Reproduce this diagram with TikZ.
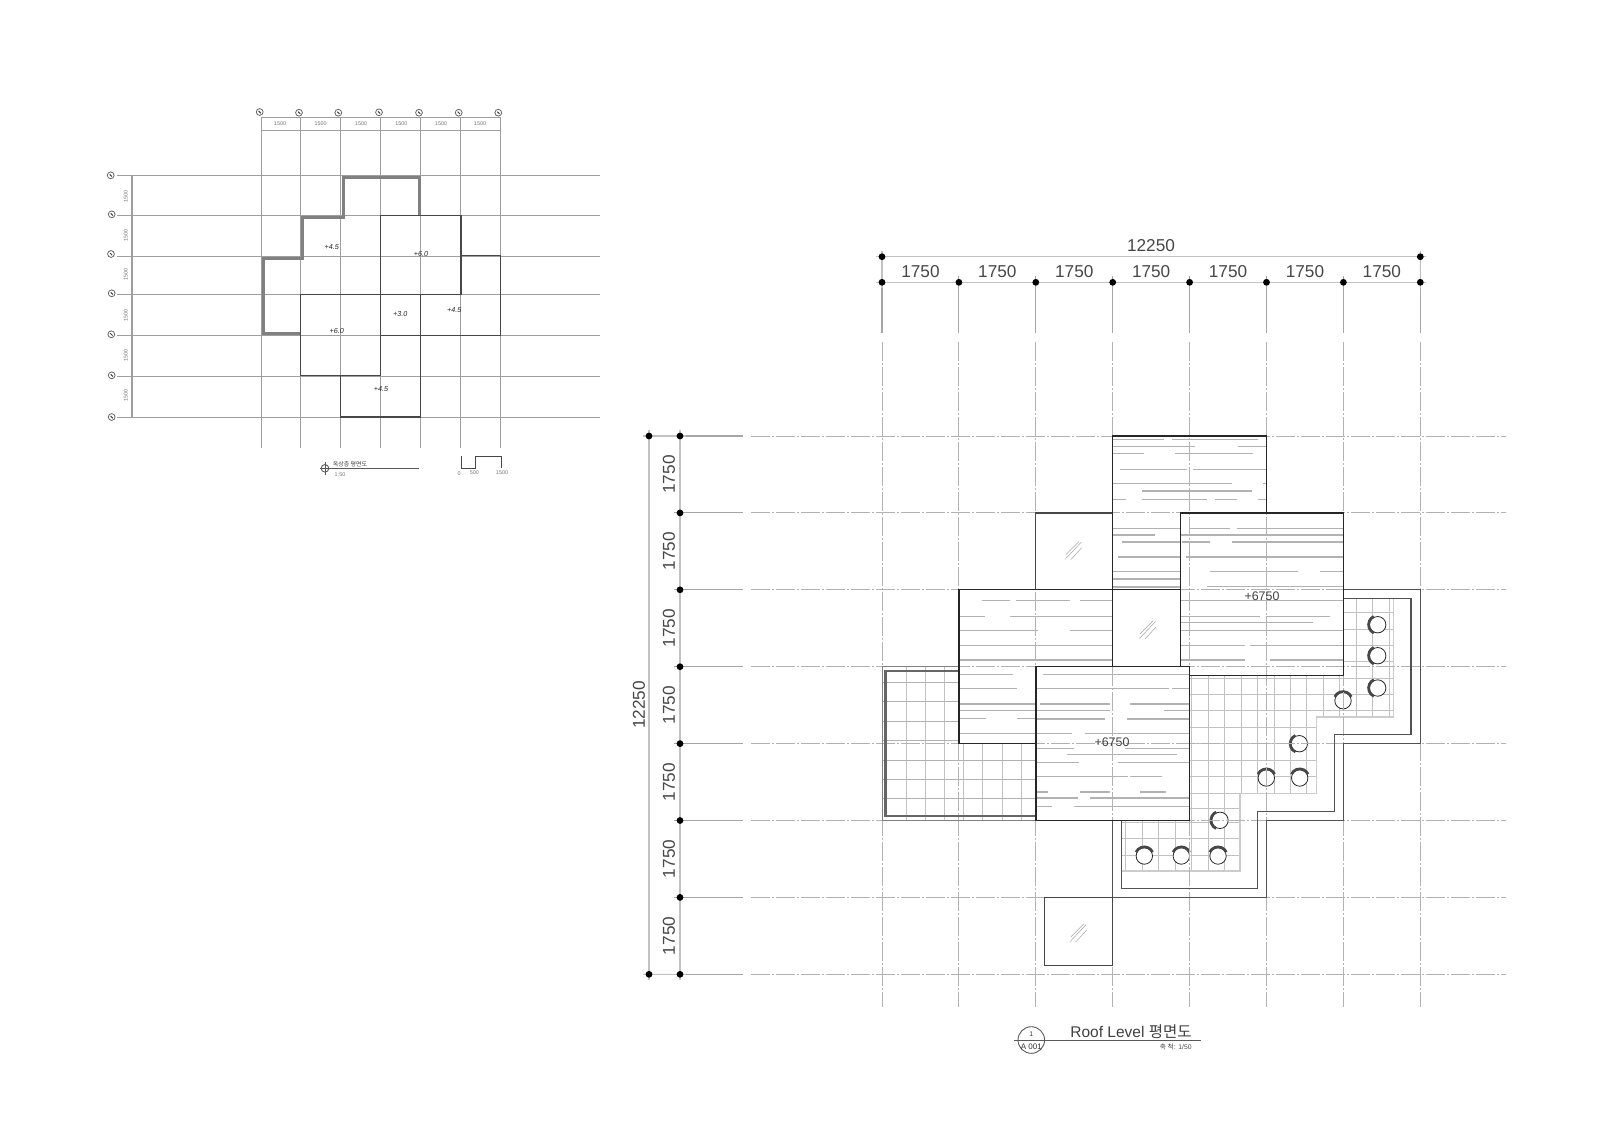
\documentclass[tikz,border=0pt]{standalone}
\usepackage{fontspec}
\setmainfont{Liberation Sans}
\newfontfamily\krfont{Noto Sans CJK KR}
\newcommand{\hl}[2]{\foreach \a/\b in {#2} \draw[hatchline] (\a,#1)--(\b,#1);}
\newcommand{\glassmark}[2]{\begin{scope}[shift={(#1,#2)}]
 \draw[glassline] (-8,4)--(5,-9); \draw[glassline] (-8.5,8.5)--(7.5,-8.5); \draw[glassline] (-3,9)--(8,-3);
\end{scope}}
\newcommand{\lampT}[2]{\draw[lampline] (#1,#2) circle (8.2);
 \draw[lamparc] (#1,#2) ++(205:9.2) arc[start angle=205,end angle=335,radius=9.2];}
\newcommand{\lampL}[2]{\draw[lampline] (#1,#2) circle (8.2);
 \draw[lamparc] (#1,#2) ++(115:9.2) arc[start angle=115,end angle=245,radius=9.2];}
\newcommand{\gridmark}[2]{\draw[gridring] (#1,#2) circle (3.4); \draw[gridtick] (#1-1,#2-1)--(#1+1.2,#2+1.2);}
\tikzset{
 x=0.5pt,y=-0.5pt,
 hatchline/.style={draw=black!30,line width=0.6pt},
 glassline/.style={draw=black!35,line width=0.25pt},
 lampline/.style={draw=black!85,fill=white,line width=0.4pt},
 lamparc/.style={draw=black!72,line width=1.3pt},
 gridring/.style={draw=black!60,fill=white,line width=0.4pt},
 gridtick/.style={draw=black!75,line width=0.5pt},
 axisdash/.style={draw=black!30,line width=0.5pt,dash pattern=on 9.5pt off 1pt on 1pt off 1pt},
 axissolid/.style={draw=black!35,line width=0.55pt},
 dimline/.style={draw=black!24,line width=0.55pt,shorten <=-3pt,shorten >=-3pt},
 paveline/.style={draw=black!24,line width=0.5pt},
 roofedge/.style={draw=black!85,line width=0.72pt},
 thinedge/.style={draw=black!72,line width=0.6pt},
 wallline/.style={draw=black!68,line width=0.6pt},
 dimdot/.style={circle,fill=black,inner sep=0pt,minimum size=3.4pt},
 dimtext/.style={font=\fontsize{8.6}{10}\selectfont,text=black!72,inner sep=0pt},
 leveltext/.style={font=\fontsize{6.2}{8}\selectfont,text=black!75,inner sep=0pt},
 tinytext/.style={font=\fontsize{2.7}{3}\selectfont,text=black!55,inner sep=0pt},
 handtext/.style={font=\fontsize{3.6}{4}\selectfont\itshape,text=black!85,inner sep=0pt},
 smallaxis/.style={draw=black!38,line width=0.45pt},
 smalledge/.style={draw=black!72,line width=0.55pt},
 smallwall/.style={draw=black!50,line width=1.5pt,line join=miter},
}
\begin{document}
\begin{tikzpicture}
\useasboundingbox (0,0) rectangle (1600,1131);
% ================= small plan
\foreach \x in {261.3,300.7,340.7,380.3,420.7,460.3,500.3} \draw[smallaxis] (\x,117.3)--(\x,448.3);
\foreach \y in {175.3,215.7,256.3,294.7,335.3,376,417} \draw[smallaxis] (117.3,\y)--(600,\y);
\draw[smallaxis] (261.3,130.7)--(500.3,130.7);
\draw[smallaxis] (261.3,117.3)--(500.3,117.3);
\draw[smallaxis,line width=0.6pt] (132,175.3)--(132,417);
\foreach \x/\y in {259.7/112,299/112.7,338.3/112.7,379/112.3,419/112.7,458.7/112.7,498.3/112.7,
  110.7/175.3,111.7/214.3,111/254,111.7/293.3,111.3/334.3,111.7/375.3,111.7/417} {\gridmark{\x}{\y}}
\foreach \x in {280,320.7,361,401.3,441,480} \node[tinytext] at (\x,124) {1500};
\foreach \y in {196,235.7,274.3,315,355,395.7} \node[tinytext,rotate=90] at (125.7,\y) {1500};
\draw[smallwall] (300,333.3)--(263.3,333.3)--(263.3,258.3)--(302.7,258.3)--(302.7,217.7)--(343.3,217.7)--(343.3,177.7)--(419,177.7)--(419,215.7);
\draw[smalledge] (380.7,215.7) rectangle (461,294.5);
\draw[smalledge] (300.7,294.7) rectangle (380.7,375.7);
\draw[smalledge] (461,255.7)--(500.7,255.7)--(500.7,335.3)--(380.7,335.3);
\draw[smalledge] (340.7,375.7)--(340.7,417)--(420.7,417)--(420.7,294.7);
\node[handtext] (s1) at (331.7,246.7) {+4.5};
\node[handtext] (s2) at (421,253.7) {+6.0};
\node[handtext] (s3) at (400.3,314.3) {+3.0};
\node[handtext] (s4) at (454.3,310) {+4.5};
\node[handtext] (s5) at (336.7,331.3) {+6.0};
\node[handtext] (s6) at (381,389.3) {+4.5};
\draw[smallaxis,draw=black!65] (320,468.3)--(419,468.3);
\draw[smallaxis,draw=black!65] (325,468.3) circle (3.8);
\draw[smallaxis,draw=black!65] (325,462)--(325,474.5);
\node[font=\krfont\fontsize{3}{4}\selectfont,text=black!75,inner sep=0pt] (st) at (350,464) {옥상층 평면도};
\node[tinytext] (ss) at (340,475) {1:50};
\draw[smalledge,line width=0.4pt] (461.3,456)--(461.3,468.3)--(475,468.3)--(475,456)--(501.7,456)--(501.7,468.3);
\node[tinytext] (b0) at (459,473.3) {0};
\node[tinytext] (b1) at (474.3,473) {500};
\node[tinytext] (b2) at (502,472.5) {1500};
% ================= main plan : lower-left paving
\begin{scope}
\clip (882,666.7) rectangle (1036,820.4);
\foreach \x in {906,925.3,944.7,963,982.7,1002,1021.7} \draw[paveline] (\x,666)--(\x,821);
\foreach \y in {682,701.7,721,740,760,779,798.3} \draw[paveline,draw=black!30] (880,\y)--(1036,\y);
\end{scope}
% right-hand paving
\begin{scope}
\clip (1189,598.7)--(1393.7,598.7)--(1393.7,717)--(1316.7,717)--(1316.7,793.3)--(1240,793.3)--(1240,871)--(1121.3,871)--(1121.3,815)--(1189,815)--cycle;
\foreach \x in {1125.5,1142,1158.7,1175,1191.7,1208.3,1224.7,1241,1257.3,1274,1290.3,1306.7,1323,1339.4,1356.3,1372.7,1389} \draw[paveline] (\x,595)--(\x,875);
\foreach \y in {612.7,629,645.3,661.7,678,694,710.3,727.3,743.3,760,776.7,793.3,808,822,838.5,855} \draw[paveline] (1115,\y)--(1400,\y);
\end{scope}
\draw[paveline,draw=black!20,line width=0.55pt] (1393.7,598.7)--(1393.7,717)--(1316.7,717)--(1316.7,793.3)--(1240,793.3)--(1240,871)--(1121.3,871);
% lamps
\lampT{1343}{700.7}\lampT{1266.3}{778}\lampT{1299.7}{778}\lampT{1144.3}{856}\lampT{1181.3}{856}\lampT{1218}{856}
\lampL{1377.7}{624.7}\lampL{1377.7}{655.7}\lampL{1377.7}{688}\lampL{1299.3}{743.7}\lampL{1220}{820.3}
% roof fills & boards
\fill[white] (1112.7,436) rectangle (1266.5,589.7);
\hl{439.3}{1112.7/1164,1172/1258}
\hl{446.7}{1112.7/1195,1238/1266}
\hl{453.7}{1112.7/1144,1175/1253}
\hl{469.3}{1120/1187,1193/1266}
\hl{483.3}{1112.7/1232,1263/1266}
\hl{491}{1142/1252}
\hl{499.3}{1112.7/1126,1142/1207,1215/1237,1258/1266}
\hl{528.3}{1112.7/1205}
\hl{535}{1112.7/1155}
\hl{542}{1122/1180}
\hl{557}{1118/1180}
\hl{571.7}{1112.7/1180}
\hl{579}{1112.7/1180}
\hl{587}{1112.7/1180}
\fill[white] (1180.3,513) rectangle (1343.3,675.3);
\hl{528.3}{1190/1230,1237/1343}
\hl{535}{1180.3/1343}
\hl{542}{1182/1210,1232/1343}
\hl{557}{1186/1343}
\hl{571.7}{1210/1298,1320/1343}
\hl{586.3}{1207/1343}
\hl{600.7}{1181/1343}
\hl{616.7}{1181/1260,1266/1330}
\hl{622.3}{1181/1313}
\hl{630.7}{1181/1343}
\hl{645.3}{1181/1245,1250/1343}
\hl{660}{1181/1245,1270/1343}
\fill[white] (1035.8,513) rectangle (1112.7,589.7);
\fill[white] (1112.7,589.7) rectangle (1180.3,666.7);
\glassmark{1073.7}{550.7}
\glassmark{1148}{630}
\fill[white] (958.9,589.7) rectangle (1112.7,743.5);
\hl{600.7}{982/1010,1016/1070,1080/1112}
\hl{616.7}{959/985,1010/1112}
\hl{630.3}{959/1038,1070/1112}
\hl{645.3}{959/1112}
\hl{660}{959/1112}
\hl{674.7}{959/1013}
\hl{688.7}{959/1017}
\hl{704}{959/1036}
\hl{710.3}{959/1036}
\hl{718.7}{959/986,1017/1036}
\hl{733.3}{959/1036}
\fill[white] (1035.8,666.7) rectangle (1189.3,820.4);
\hl{674.7}{1043/1189}
\hl{688.7}{1036/1169,1172/1189}
\hl{704}{1040/1110,1130/1189}
\hl{710.3}{1036/1110,1164/1189}
\hl{719}{1036/1105,1127/1189}
\hl{733.3}{1036/1072,1085/1189}
\hl{748.3}{1036/1074,1125/1189}
\hl{754.3}{1067/1177}
\hl{762.7}{1036/1079,1118/1189}
\hl{776.7}{1037/1128,1130/1162}
\hl{792}{1036/1048,1080/1110,1140/1166}
\hl{798}{1036/1078,1090/1189}
\hl{806.7}{1036/1052,1074/1189}
% ================= axes
\coordinate (ta) at (882,256.7);
\coordinate (tb) at (1420.3,256.7);
\coordinate (la) at (649,436);
\coordinate (lb) at (649,974.3);
\foreach \i in {0,...,7} {
  \pgfmathsetmacro{\gx}{882+76.9*\i}
  \pgfmathsetmacro{\gy}{436+76.9*\i}
  \coordinate (top\i) at (\gx,282.3);
  \coordinate (lef\i) at (680,\gy);
}
\foreach \i in {0,...,7} {
  \pgfmathsetmacro{\gx}{882+76.9*\i}
  \pgfmathsetmacro{\gy}{436+76.9*\i}
  \draw[axisdash] (\gx,342)--(\gx,1007);
  \draw[axisdash] (751,\gy)--(1506,\gy);
  \draw[axissolid,shorten <=-3pt] (top\i)--(\gx,333);
  \draw[axissolid,shorten <=-3pt] (lef\i)--(743,\gy);
}
\draw[dimline] (ta)--(tb);
\draw[dimline] (top0)--(top7);
\draw[dimline] (la)--(lb);
\draw[dimline] (lef0)--(lef7);
\draw[dimline] (la)--(lef0);
\draw[dimline] (lb)--(lef7);
\draw[dimline] (ta)--(top0);
\draw[dimline] (tb)--(top7);
\foreach \i in {0,...,7} {
  \node[dimdot] at (top\i) {};
  \node[dimdot] at (lef\i) {};
}
\node[dimdot] at (ta) {};
\node[dimdot] at (tb) {};
\node[dimdot] at (la) {};
\node[dimdot] at (lb) {};
\node[dimtext] (dt) at (1151,246) {12250};
\foreach \i in {0,...,6} {
  \pgfmathsetmacro{\gx}{882+76.9*\i+38.45}
  \node[dimtext] (dx\i) at (\gx,272) {1750};
  \pgfmathsetmacro{\gy}{436+76.9*\i+38.45}
  \node[dimtext,rotate=90] (dy\i) at (669,\gy) {1750};
}
\node[dimtext,rotate=90] (dl) at (639,705) {12250};
% ================= outlines
% terrace lower-left
\draw[draw=black!50,line width=0.5pt] (958.9,666.7)--(882.3,666.7)--(882.3,820.4)--(1036,820.4);
\draw[draw=black!60,line width=1.2pt] (958.9,671)--(885.5,671)--(885.5,816)--(1036,816);
% right wall
\draw[wallline] (1343.3,589.5)--(1420.3,589.5)--(1420.3,743.3)--(1343.3,743.3)--(1343.3,820.5)--(1266.7,820.5)--(1266.7,897.3)--(1112.7,897.3)--(1112.7,820);
\draw[wallline] (1343.3,598.7)--(1411,598.7)--(1411,734.7)--(1334.3,734.7)--(1334.3,811.7)--(1257.3,811.7)--(1257.3,888.3)--(1121.3,888.3)--(1121.3,820);
% glass 3
\draw[thinedge] (1044.3,897.3) rectangle (1112.7,965.3);
\glassmark{1078.7}{933}
% glass 1
\draw[thinedge] (1035.8,589.7)--(1035.8,513)--(1112.7,513);
% roofs
\draw[roofedge] (1112.7,589.7)--(1112.7,436)--(1266.5,436)--(1266.5,513);
\draw[roofedge] (1180.3,666.7)--(1180.3,513)--(1343.3,513)--(1343.3,675.3)--(1189.3,675.3);
\draw[roofedge] (958.9,743.5)--(958.9,589.7)--(1180.3,589.7);
\draw[roofedge] (958.9,743.5)--(1035.8,743.5);
\draw[roofedge] (1112.7,589.7)--(1112.7,666.7);
\draw[roofedge] (1035.8,666.7) rectangle (1189.3,820.4);
\draw[roofedge] (1112.7,666.7)--(1180.3,666.7);
\node[leveltext] (lv1) at (1262,596) {+6750};
\node[leveltext] (lv2) at (1112,742.5) {+6750};
% ================= title
\draw[draw=black!65,line width=0.45pt] (1031.3,1040) circle (13.3);
\draw[draw=black!65,line width=0.45pt] (1014,1040)--(1201,1040);
\node[font=\fontsize{3.4}{4}\selectfont,text=black!80,inner sep=0pt] (t1) at (1031.3,1034) {1};
\node[font=\fontsize{4}{5}\selectfont,text=black!80,inner sep=0pt] (t2) at (1031.3,1046.5) {A 001};
\node[anchor=east,font=\fontsize{7.75}{9}\selectfont,text=black!75,inner sep=0pt] (t3) at (1192,1031.3) {Roof Level {\krfont 평면도}};
\node[anchor=east,font=\fontsize{3.4}{4}\selectfont,text=black!70,inner sep=0pt] (t4) at (1192,1046.7) {{\krfont 축 척}: 1/50};
\end{tikzpicture}
\end{document}
